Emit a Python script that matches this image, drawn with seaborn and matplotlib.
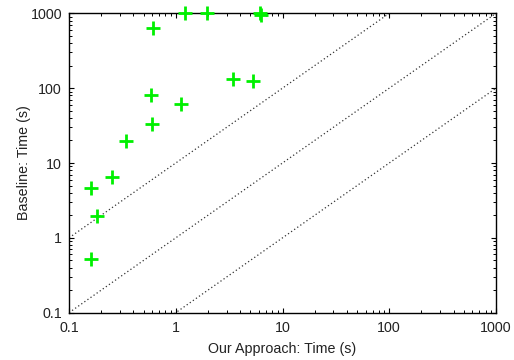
import matplotlib
matplotlib.use("Agg")
import matplotlib.pyplot as plt
import matplotlib.ticker as mticker
import seaborn as sns
import numpy as np
import pandas as pd

# Data
our_time = [0.161, 0.182, 0.161, 0.251, 0.342, 0.603, 0.582, 1.11, 0.616,
            1.22, 1.95, 6.2, 6.35, 3.41, 5.25]
baseline_time = [0.515, 1.96, 4.64, 6.5, 19.5, 32.8, 80, 61.2, 631,
                 1000, 1000, 1000, 960, 130.6, 124]
ref_x = [0.1, 1000]
ref_factors = [10, 1, 0.1]
tick_vals = [0.1, 1, 10, 100, 1000]
tick_labels = ["0.1", "1", "10", "100", "1000"]

sns.set_style("white")
plt.rcParams['font.family'] = ['Liberation Sans', 'DejaVu Sans']

fig = plt.figure(figsize=(5.14, 3.6), dpi=100)
ax = fig.add_axes([69/514, 1-312.7/360, (496-69)/514, (312.7-13.3)/360])

for f in ref_factors:
    ref_df = pd.DataFrame({"x": ref_x, "y": [v * f for v in ref_x]})
    sns.lineplot(data=ref_df, x="x", y="y", ax=ax, color="#333333",
                 linestyle=(0, (1, 2)), linewidth=0.9)

pts = pd.DataFrame({"x": our_time, "y": baseline_time})
sns.scatterplot(data=pts, x="x", y="y", ax=ax, marker="+", s=95,
                color="#00f000", linewidth=2.0, clip_on=False, zorder=5)

ax.set_xscale("log")
ax.set_yscale("log")
ax.set_xlim(0.1, 1000)
ax.set_ylim(0.1, 1000)
ax.set_xticks(tick_vals)
ax.set_xticklabels(tick_labels)
ax.set_yticks(tick_vals)
ax.set_yticklabels(tick_labels)
ax.xaxis.set_minor_locator(mticker.LogLocator(base=10, subs=np.arange(2, 10)))
ax.yaxis.set_minor_locator(mticker.LogLocator(base=10, subs=np.arange(2, 10)))
ax.xaxis.set_minor_formatter(mticker.NullFormatter())
ax.yaxis.set_minor_formatter(mticker.NullFormatter())

ax.tick_params(which="both", direction="in", top=True, right=True,
               bottom=True, left=True, colors="black", labelsize=10.3,
               labelcolor="#222222")
ax.tick_params(which="major", length=3.5, width=0.8)
ax.tick_params(which="minor", length=2.0, width=0.7)
ax.tick_params(axis="x", which="major", pad=6)
ax.tick_params(axis="y", which="major", pad=5)

for sp in ax.spines.values():
    sp.set_visible(True)
    sp.set_color("black")
    sp.set_linewidth(1.0)

ax.set_xlabel("Our Approach: Time (s)", fontsize=10.3, labelpad=5,
              color="#222222")
ax.set_ylabel("Baseline: Time (s)", fontsize=10.3, labelpad=-0.5,
              color="#222222")
ax.grid(False)

fig.savefig("out.png", dpi=100)
